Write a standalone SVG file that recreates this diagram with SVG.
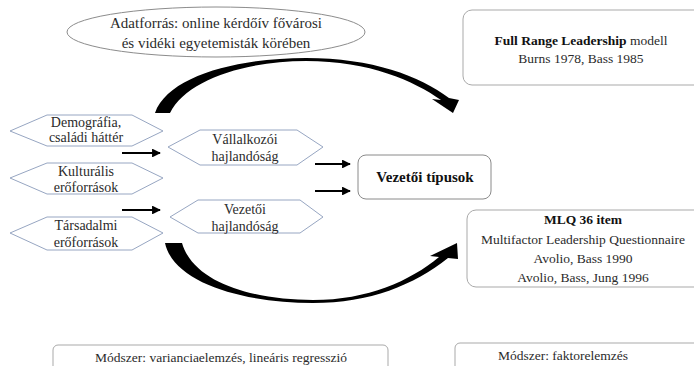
<svg xmlns="http://www.w3.org/2000/svg" width="694" height="366" viewBox="0 0 694 366">
<defs>
<style>
text{font-family:"Liberation Serif","Times New Roman",serif;fill:#2b2b2b;text-anchor:middle}
.t14{font-size:14px}
.t15{font-size:15px}
.t13{font-size:13.5px}
.b{font-weight:bold;fill:#111}
.hex{fill:#fff;stroke:#97a6c2;stroke-width:1}
.box{fill:#fff;stroke:#a9a9a9;stroke-width:1}
.ell{fill:#fff;stroke:#8c8c8c;stroke-width:1}
.sa{stroke:#000;stroke-width:2.2;fill:none}
.big{fill:#000}
</style>
<marker id="ah" viewBox="0 0 10 10" refX="9" refY="5" markerWidth="4" markerHeight="4" orient="auto" markerUnits="strokeWidth">
<path d="M0,0 L10,5 L0,10 Z" fill="#000"/>
</marker>
</defs>
<rect width="694" height="366" fill="#fff"/>

<g id="connectors">
<path class="big" d="M155,113 C168,76 238,58 306,58 C372,58 420,76 449,98 L459,100 L453,113 L432,99 L441,100 C414,81 370,61 306,61 C246,61 186,80 170,113 Z"/>
<path class="big" d="M165,243 C174,284 246,303 313,303 C370,303 414,285 448,258 L458,259 L457,243 L430,256 L439,257 C410,281 368,300 313,300 C256,300 194,284 182,243 Z"/>
<line class="sa" x1="122" y1="153" x2="160" y2="153" marker-end="url(#ah)"/>
<line class="sa" x1="122" y1="210" x2="160" y2="210" marker-end="url(#ah)"/>
<line class="sa" x1="315" y1="164" x2="350" y2="164" marker-end="url(#ah)"/>
<line class="sa" x1="315" y1="191" x2="350" y2="191" marker-end="url(#ah)"/>
</g>

<g id="adatforras">
<ellipse class="ell" cx="216" cy="32" rx="149" ry="25"/>
<text class="t15" x="216" y="28">Adatforrás: online kérdőív fővárosi</text>
<text class="t15" x="216" y="48">és vidéki egyetemisták körében</text>
</g>

<g id="fullrange">
<rect class="box" x="463" y="10" width="240" height="75" rx="9"/>
<text class="t13" x="581" y="45"><tspan class="b">Full Range Leadership</tspan> modell</text>
<text class="t13" x="581" y="63">Burns 1978, Bass 1985</text>
</g>

<g id="demografia">
<polygon class="hex" points="10,131 47,115 132,115 163,131 132,146 47,146"/>
<text class="t14" x="86" y="127">Demográfia,</text>
<text class="t14" x="86" y="142">családi háttér</text>
</g>

<g id="kulturalis">
<polygon class="hex" points="10,178 47,163 132,163 163,178 132,194 47,194"/>
<text class="t14" x="86" y="176">Kulturális</text>
<text class="t14" x="86" y="192">erőforrások</text>
</g>

<g id="tarsadalmi">
<polygon class="hex" points="10,233 47,217 132,217 163,233 132,250 47,250"/>
<text class="t14" x="86" y="230">Társadalmi</text>
<text class="t14" x="86" y="247">erőforrások</text>
</g>

<g id="vallalkozoi">
<polygon class="hex" points="168,147 200,130 297,130 323,147 297,165 200,165"/>
<text class="t14" x="245" y="144">Vállalkozói</text>
<text class="t14" x="245" y="161">hajlandóság</text>
</g>

<g id="vezetoi">
<polygon class="hex" points="170,217 198,200 300,200 323,217 300,233 198,233"/>
<text class="t14" x="245" y="214">Vezetői</text>
<text class="t14" x="245" y="231">hajlandóság</text>
</g>

<g id="vezetoitipusok">
<rect class="box" x="358" y="155" width="133" height="44" rx="8" style="stroke:#8a8a8a"/>
<text class="t15 b" x="425" y="182">Vezetői típusok</text>
</g>

<g id="mlq">
<rect class="box" x="467" y="210" width="240" height="77" rx="9"/>
<text class="t13 b" x="583" y="224">MLQ 36 item</text>
<text class="t13" x="583" y="244">Multifactor Leadership Questionnaire</text>
<text class="t13" x="583" y="263">Avolio, Bass 1990</text>
<text class="t13" x="583" y="282">Avolio, Bass, Jung 1996</text>
</g>

<g id="modszer1">
<rect class="box" x="53" y="345" width="335" height="30" rx="5"/>
<text class="t13" x="221" y="362">Módszer: varianciaelemzés, lineáris regresszió</text>
</g>

<g id="modszer2">
<rect class="box" x="455" y="343" width="250" height="30" rx="5"/>
<text class="t13" x="563" y="360">Módszer: faktorelemzés</text>
</g>
</svg>
